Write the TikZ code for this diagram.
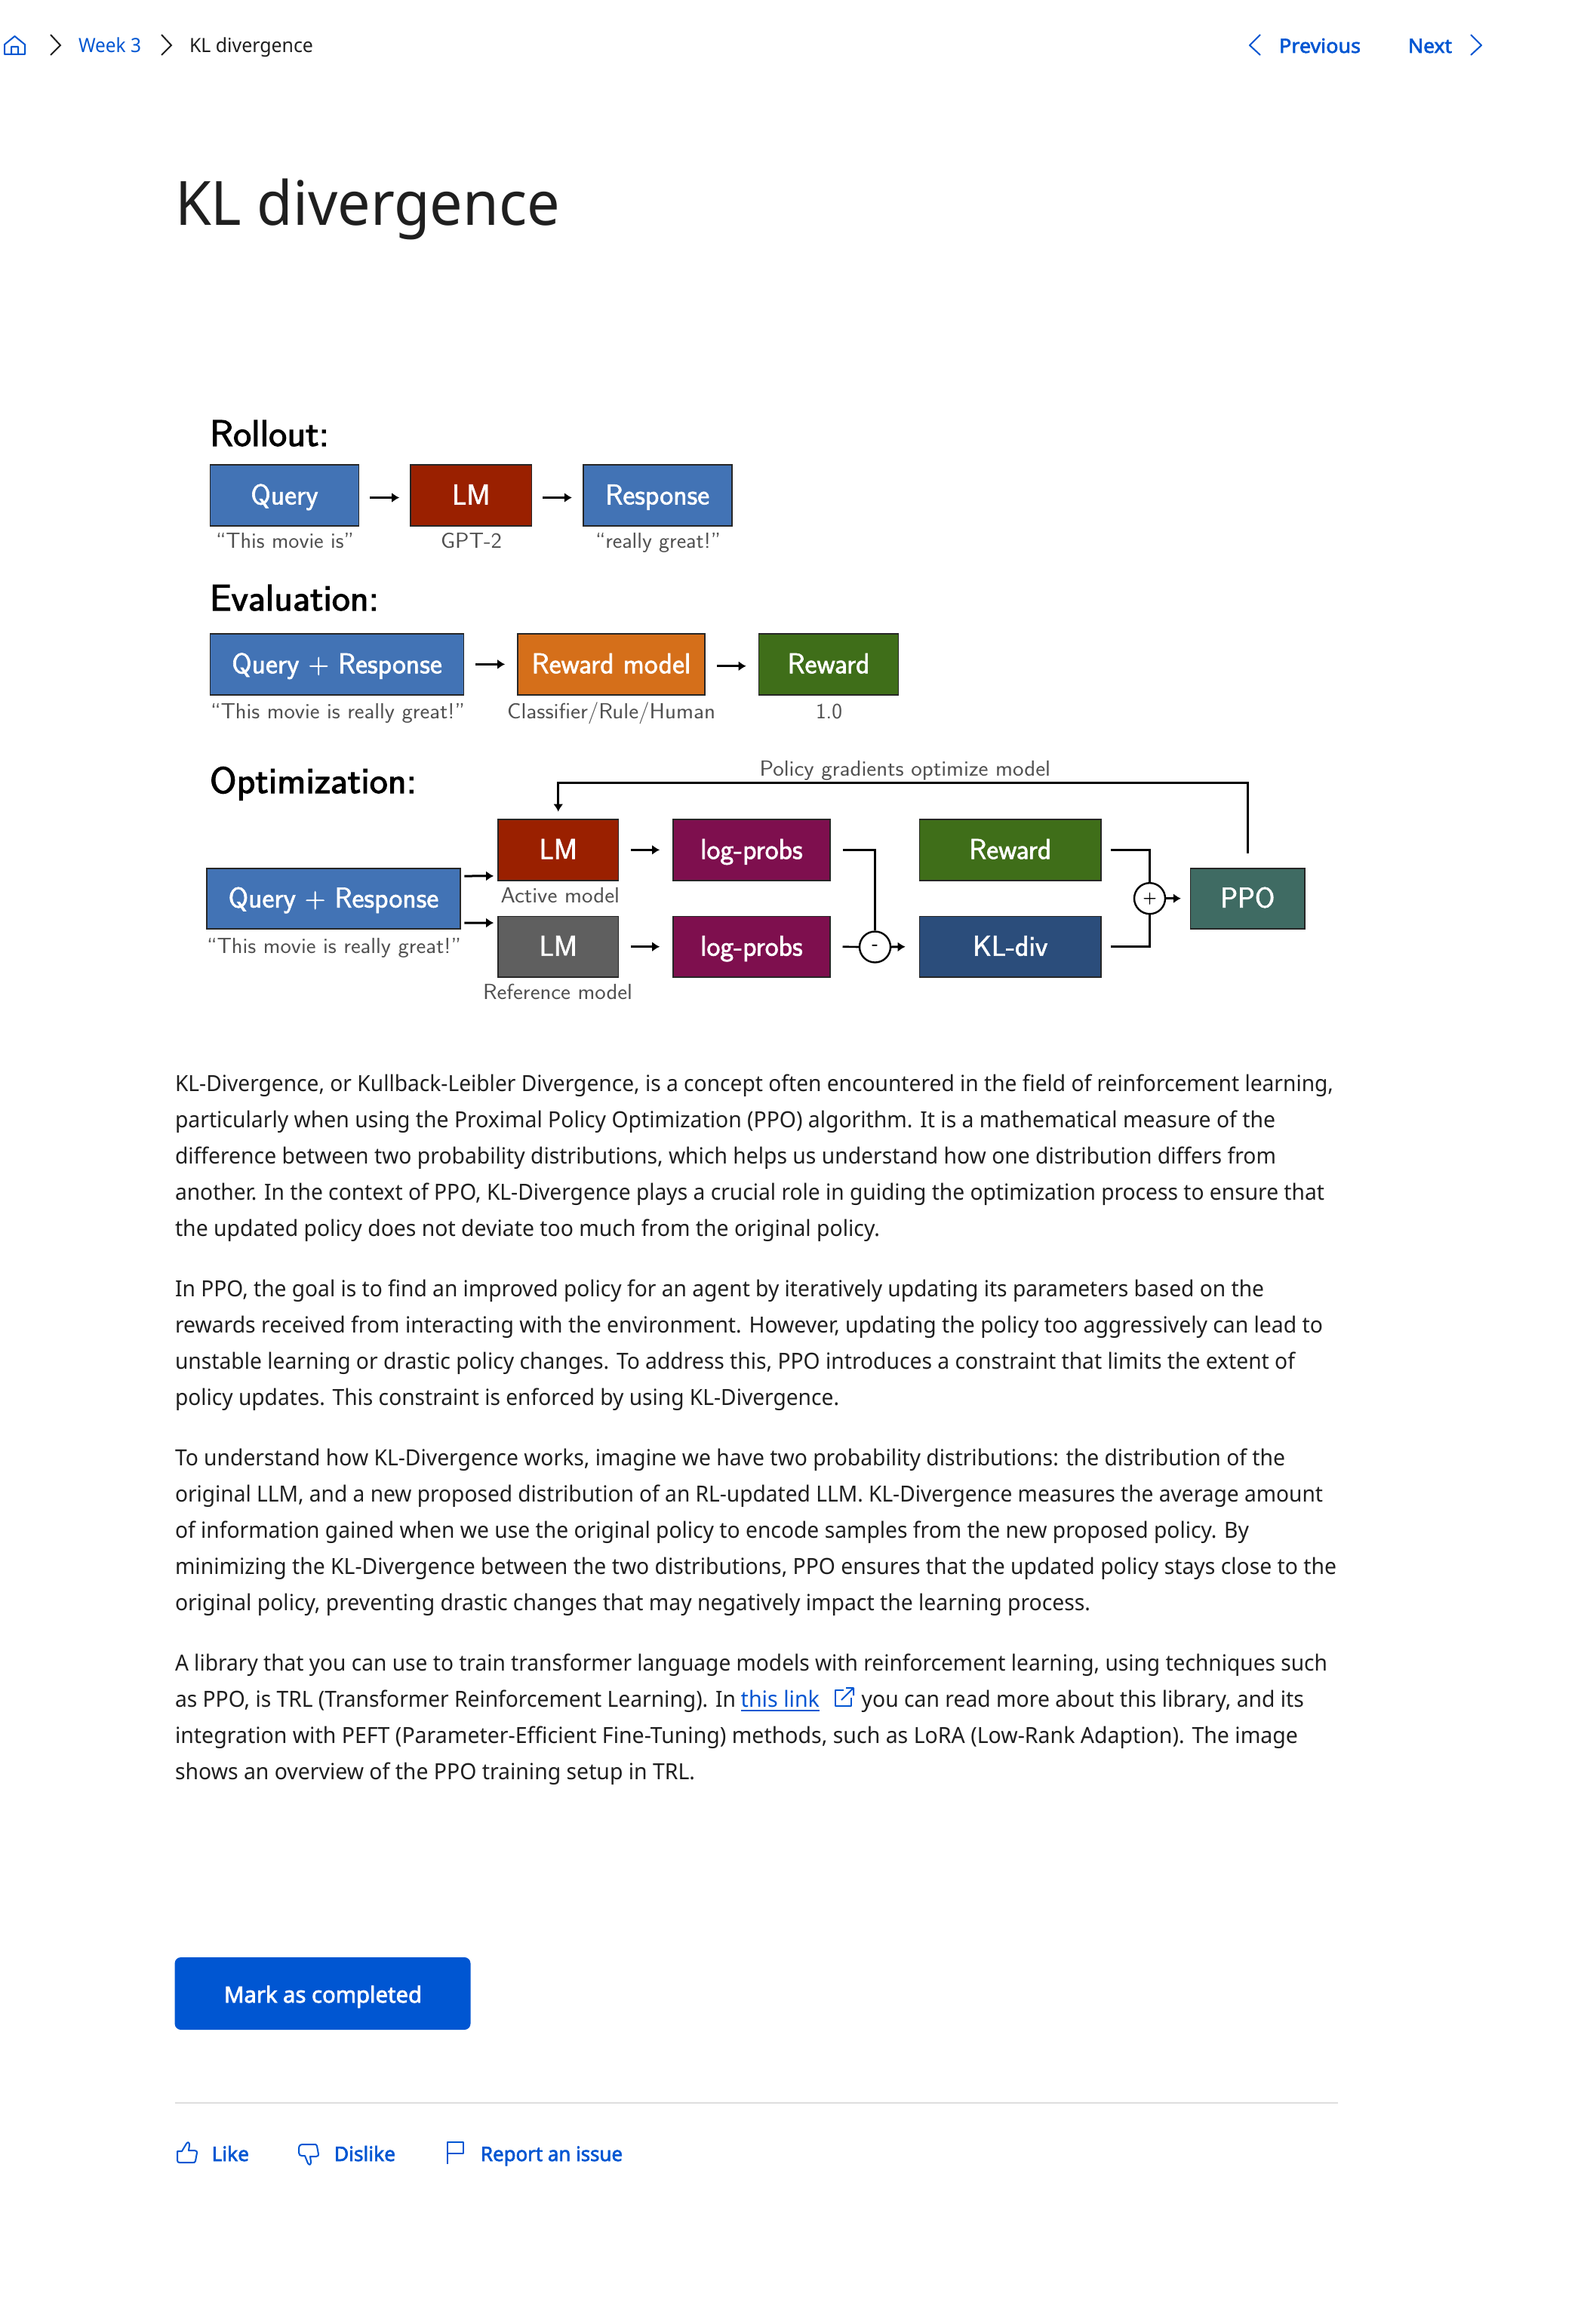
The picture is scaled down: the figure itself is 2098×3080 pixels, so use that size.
\documentclass[tikz,border=0pt]{standalone}
\usepackage{fontspec}
\usepackage{graphicx}
\usetikzlibrary{arrows.meta,calc}
\newfontfamily\bodyf{Noto Sans}
\newfontfamily\semif[FakeBold=2.4]{Noto Sans}
\newfontfamily\headf[FakeBold=2.2]{Latin Modern Sans}
\newfontfamily\boxf[FakeBold=1.6]{Latin Modern Sans}
\definecolor{ink}{HTML}{1F1F1F}
\definecolor{linkblue}{HTML}{0056D2}
\definecolor{capgray}{HTML}{505050}
\definecolor{cblue}{HTML}{4273B5}
\definecolor{cred}{HTML}{9A2000}
\definecolor{corange}{HTML}{D56F1A}
\definecolor{cgreen}{HTML}{3F6E19}
\definecolor{cplum}{HTML}{7E0F4E}
\definecolor{cgray}{HTML}{5F5F5F}
\definecolor{cnavy}{HTML}{2B4D7B}
\definecolor{cteal}{HTML}{3F6B63}
\tikzset{
  txt/.style={anchor=base west,inner sep=0pt,outer sep=0pt},
  blk/.style={draw=black!85,line width=1.6pt,inner sep=0pt,text=white,text height=26pt,text depth=2pt,align=center,font=\boxf\fontsize{38}{40}\selectfont},
  arr/.style={line width=3pt,-{Latex[length=10pt,width=13pt]}},
  conn/.style={line width=2.6pt},
  opnode/.style={draw=black,line width=2.4pt,circle,minimum size=41pt,inner sep=0pt,font=\headf\fontsize{24}{26}\selectfont},
  ico/.style={draw=linkblue,line width=2pt,line join=round},
}
% name, x1, x2, baseline y, font and colour, text
\newcommand{\ftx}[6]{\node[txt,#5] (#1) at (#2,#4) {\resizebox{\dimexpr #3pt-#2pt\relax}{\height}{#6}};}
% body line
\newcommand{\bl}[4]{\ftx{#1}{232}{#3}{#2}{text=ink,font=\bodyf\fontsize{29.5}{32}\selectfont}{#4}}
% diagram box
\newcommand{\blkbox}[7]{\node[blk,fill=#6,minimum width={(#4-#2)*1pt},minimum height={(#5-#3)*1pt}] (#1) at ({(#2+#4)/2},{(#3+#5)/2}) {#7};}
\newcommand{\capt}[5]{\ftx{#1}{#2}{#3}{#4}{text=capgray,font=\sffamily\fontsize{29}{31}\selectfont}{#5}}
\newcommand{\head}[5]{\ftx{#1}{#2}{#3}{#4}{text=black,font=\headf\fontsize{49}{51}\selectfont}{#5}}
\begin{document}
\begin{tikzpicture}[x=1pt,y=-1pt]
\useasboundingbox[fill=white] (0,0) rectangle (2098,3080);

% --- breadcrumb bar
\draw[ico] (6,59)--(19.5,48)--(33,59)--(33,72)--(6,72)--cycle (15,72)--(15,62)--(24,62)--(24,72);
\draw[draw=ink,line width=2pt] (67,46)--(80,60)--(67,73);
\draw[draw=ink,line width=2pt] (214,46)--(227,60)--(214,73);
\ftx{wk}{104}{187}{70}{text=linkblue,font=\bodyf\fontsize{26}{28}\selectfont}{Week 3}
\ftx{crumb}{251}{415}{70}{text=ink,font=\bodyf\fontsize{26}{28}\selectfont}{KL divergence}
\draw[ico] (1670,46)--(1656,60)--(1670,73);
\draw[ico] (1949,46)--(1963,60)--(1949,73);
\ftx{prev}{1695}{1803}{70}{text=linkblue,font=\semif\fontsize{26}{28}\selectfont}{Previous}
\ftx{next}{1866}{1924}{70}{text=linkblue,font=\semif\fontsize{26}{28}\selectfont}{Next}
\ftx{title}{232}{742}{298}{text=ink,font=\bodyf\fontsize{81}{84}\selectfont}{KL divergence}

% --- Rollout
\head{h1}{278}{436}{591}{Rollout:}
\blkbox{q1}{278.5}{616}{475.5}{697}{cblue}{Query}
\blkbox{lm0}{544}{616}{704.5}{697}{cred}{LM}
\blkbox{r1}{772.7}{616}{969.8}{697}{cblue}{Response}
\draw[arr] ([xshift=14pt,yshift=-3pt]q1.east) -- ([xshift=-14pt,yshift=-3pt]lm0.west);
\draw[arr] ([xshift=14pt,yshift=-3pt]lm0.east) -- ([xshift=-14pt,yshift=-3pt]r1.west);
\capt{c1}{286}{469}{726}{“This movie is”}
\capt{c2}{584}{665}{726}{GPT-2}
\capt{c3}{789}{955}{726}{“really great!”}

% --- Evaluation
\head{h2}{278}{502}{809}{Evaluation:}
\blkbox{qr2}{278.5}{840}{614.6}{920.7}{cblue}{Query + Response}
\blkbox{rm}{686}{840}{934}{920.7}{corange}{Reward model}
\blkbox{rw2}{1005.5}{840}{1190.5}{920.7}{cgreen}{Reward}
\draw[arr] ([xshift=15pt]qr2.east) -- ([xshift=-16pt]rm.west);
\draw[arr] ([xshift=15pt,yshift=-2.4pt]rm.east) -- ([xshift=-16pt,yshift=-2.4pt]rw2.west);
\capt{c4}{279}{616}{952}{“This movie is really great!”}
\capt{c5}{672}{948}{952}{Classifier/Rule/Human}
\capt{c6}{1081}{1116}{952}{1.0}

% --- Optimization
\head{h3}{278}{552}{1051}{Optimization:}
\blkbox{qr3}{274}{1150.7}{610}{1230.7}{cblue}{Query + Response}
\blkbox{lm1}{660}{1086}{819.5}{1166.7}{cred}{LM}
\blkbox{lm2}{660}{1214.3}{819.5}{1295}{cgray}{LM}
\blkbox{lp1}{892}{1086}{1099.7}{1166.7}{cplum}{log-probs}
\blkbox{lp2}{892}{1214.3}{1099.7}{1295}{cplum}{log-probs}
\blkbox{rw3}{1218.4}{1086}{1459}{1166.7}{cgreen}{Reward}
\blkbox{kl}{1218.4}{1214.3}{1459}{1295}{cnavy}{KL-div}
\blkbox{ppo}{1577.6}{1150.7}{1729}{1230.7}{cteal}{PPO}
\node[opnode] (minus) at (1159.5,1255) {-};
\node[opnode] (plus) at (1523.5,1190.7) {+};
\coordinate (fb) at (1653.3,1037.3);
\draw[arr] ([xshift=4.6pt,yshift=29.7pt]qr3.east) -- ([xshift=-5pt,yshift=-34.6pt]lm1.west);
\draw[arr] ([xshift=4.6pt,yshift=-32.3pt]qr3.east) -- ([xshift=-5pt,yshift=31.6pt]lm2.west);
\draw[arr] ([xshift=16pt]lm1.east) -- ([xshift=-17pt]lp1.west);
\draw[arr] ([xshift=16pt]lm2.east) -- ([xshift=-17pt]lp2.west);
\draw[conn] ([xshift=16pt]lp1.east) -| (minus.north);
\draw[conn] ([xshift=16pt]lp2.east) -- (minus.west);
\draw[arr] (minus.east) -- ([xshift=-18pt]kl.west);
\draw[conn] ([xshift=12pt]rw3.east) -| (plus.north);
\draw[conn] ([xshift=12pt]kl.east) -| (plus.south);
\draw[arr] (plus.east) -- ([xshift=-12pt]ppo.west);
\draw[arr] ([yshift=19pt]ppo.north) -- (fb) -| ([yshift=9.5pt]lm1.north);
\capt{c7}{663.5}{821}{1196.7}{Active model}
\capt{c8}{640}{838}{1324}{Reference model}
\capt{c9}{274}{611}{1263}{“This movie is really great!”}
\capt{c10}{1006.6}{1392}{1028}{Policy gradients optimize model}

% --- body text
\bl{p1a}{1446.5}{1767}{KL-Divergence, or Kullback-Leibler Divergence, is a concept often encountered in the field of reinforcement learning,}
\bl{p1b}{1494.5}{1690}{particularly when using the Proximal Policy Optimization (PPO) algorithm. It is a mathematical measure of the}
\bl{p1c}{1542.5}{1691}{difference between two probability distributions, which helps us understand how one distribution differs from}
\bl{p1d}{1590.5}{1755}{another. In the context of PPO, KL-Divergence plays a crucial role in guiding the optimization process to ensure that}
\bl{p1e}{1638.5}{1166}{the updated policy does not deviate too much from the original policy.}
\bl{p2a}{1718.5}{1675}{In PPO, the goal is to find an improved policy for an agent by iteratively updating its parameters based on the}
\bl{p2b}{1766.5}{1753}{rewards received from interacting with the environment. However, updating the policy too aggressively can lead to}
\bl{p2c}{1814.5}{1716}{unstable learning or drastic policy changes. To address this, PPO introduces a constraint that limits the extent of}
\bl{p2d}{1862.5}{1112}{policy updates. This constraint is enforced by using KL-Divergence.}
\bl{p3a}{1942.5}{1703}{To understand how KL-Divergence works, imagine we have two probability distributions: the distribution of the}
\bl{p3b}{1990.5}{1753}{original LLM, and a new proposed distribution of an RL-updated LLM. KL-Divergence measures the average amount}
\bl{p3c}{2038.5}{1655}{of information gained when we use the original policy to encode samples from the new proposed policy. By}
\bl{p3d}{2086.5}{1771}{minimizing the KL-Divergence between the two distributions, PPO ensures that the updated policy stays close to the}
\bl{p3e}{2134.5}{1445}{original policy, preventing drastic changes that may negatively impact the learning process.}
\bl{p4a}{2214.5}{1759}{A library that you can use to train transformer language models with reinforcement learning, using techniques such}
\bl{p4b}{2262.5}{975}{as PPO, is TRL (Transformer Reinforcement Learning). In}
\ftx{lnk}{981.7}{1086}{2262.5}{text=linkblue,font=\bodyf\fontsize{29.5}{32}\selectfont}{this link}
\draw[draw=linkblue,line width=2pt] (lnk.base west) ++(0,4) -- ++(104.5,0);
\draw[ico] (1118,2240)--(1106.5,2240)--(1106.5,2261)--(1128,2261)--(1128,2250);
\draw[ico] (1115,2253)--(1131,2237) (1121,2237)--(1131,2237)--(1131,2247);
\ftx{p4c}{1141.7}{1728}{2262.5}{text=ink,font=\bodyf\fontsize{29.5}{32}\selectfont}{you can read more about this library, and its}
\bl{p4d}{2310.5}{1720}{integration with PEFT (Parameter-Efficient Fine-Tuning) methods, such as LoRA (Low-Rank Adaption). The image}
\bl{p4e}{2358.5}{921}{shows an overview of the PPO training setup in TRL.}

% --- footer
\fill[linkblue,rounded corners=8pt] (231.6,2594) rectangle (623.5,2690);
\ftx{mark}{297}{559}{2654}{text=white,font=\semif\fontsize{29.5}{32}\selectfont}{Mark as completed}
\draw[draw=black!13,line width=2.4pt] (231.6,2787) -- (1773,2787);
\draw[ico] (235,2851)--(241,2851)--(247,2841)..controls (249,2838) and (251,2839) .. (251,2843)--(250,2850)--(258,2850)..controls (261,2850) and (261,2852) .. (261,2853)--(259,2864)..controls (258.5,2866) and (257,2866) .. (256,2866)--(238,2866)..controls (236,2866) and (235,2865) .. (235,2863)--cycle;
\draw[ico] (400,2857)--(404,2857)--(408,2867)..controls (410,2870) and (412,2869) .. (412,2865)--(411,2858)--(419,2858)..controls (422,2858) and (422,2856) .. (422,2855)--(420,2844)..controls (419.5,2842) and (418,2842) .. (417,2842)--(402,2842)..controls (398,2842) and (396,2843) .. (396,2848)--(396,2853)..controls (396,2856) and (398,2857) .. (400,2857)--cycle;
\draw[ico] (593,2868)--(593,2839)--(614,2839)--(614,2854)--(593,2854);
\ftx{like}{280.6}{330}{2864}{text=linkblue,font=\semif\fontsize{26.5}{28}\selectfont}{Like}
\ftx{dislike}{443}{524}{2864}{text=linkblue,font=\semif\fontsize{26.5}{28}\selectfont}{Dislike}
\ftx{report}{637}{825}{2864}{text=linkblue,font=\semif\fontsize{26.5}{28}\selectfont}{Report an issue}
\end{tikzpicture}
\end{document}
